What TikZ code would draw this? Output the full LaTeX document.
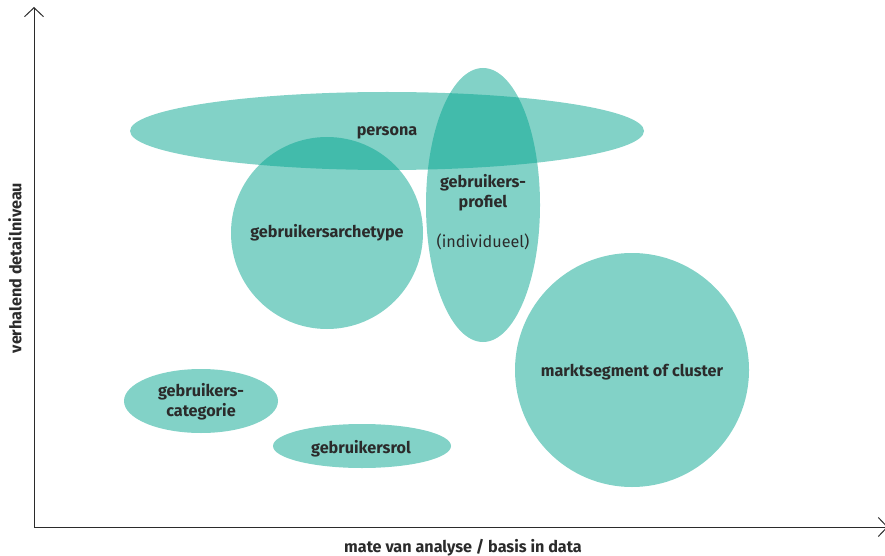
\documentclass[tikz,border=0pt]{standalone}
\usepackage{fontspec}
\setmainfont{Fira Sans}
\usetikzlibrary{shapes.geometric,arrows.meta}

\definecolor{teal}{RGB}{0,163,141}
\definecolor{ink}{RGB}{43,43,43}

\begin{document}
\begin{tikzpicture}[x=1pt,y=-1pt,
    blob/.style={ellipse,fill=teal,fill opacity=.49,inner sep=0pt},
    tag/.style={text=ink,font=\fontsize{16.2}{20}\selectfont\bfseries,align=center},
    axis/.style={ink,line width=1pt,-{Straight Barb[length=9pt,width=19pt]}}]
  \useasboundingbox (0,0) rectangle (885,556);

  % axes
  \coordinate (origin) at (34,527);
  \coordinate (ytop) at (34,7);
  \coordinate (xend) at (888,527);
  \draw[axis] (origin) -- (ytop);
  \draw[axis] (origin) -- (xend);
  \node[tag] (xlabel) at (463,548) {mate van analyse / basis in data};
  \node[tag,rotate=90] (ylabel) at (15,268) {verhalend detailniveau};

  % the bubbles
  \node[blob,minimum width=514,minimum height=78] (persona) at (387,131) {};
  \node[blob,minimum width=192,minimum height=192] (archetype) at (327,233) {};
  \node[blob,minimum width=114,minimum height=274] (profiel) at (483,205) {};
  \node[blob,minimum width=234,minimum height=234] (segment) at (632,370) {};
  \node[blob,minimum width=154,minimum height=64] (categorie) at (201,401) {};
  \node[blob,minimum width=178,minimum height=44] (rol) at (362,446) {};

  % labels on top
  \node[tag] (personaText) at (387,133) {persona};
  \node[tag] (archetypeText) at (327,233) {gebruikersarchetype};
  \node[tag] (profielText) at (483,212) {gebruikers-\\profiel\\[20pt]\mdseries(individueel)};
  \node[tag] (segmentText) at (632,372) {marktsegment of cluster};
  \node[tag] (categorieText) at (201,402) {gebruikers-\\categorie};
  \node[tag] (rolText) at (361,449) {gebruikersrol};
\end{tikzpicture}
\end{document}
